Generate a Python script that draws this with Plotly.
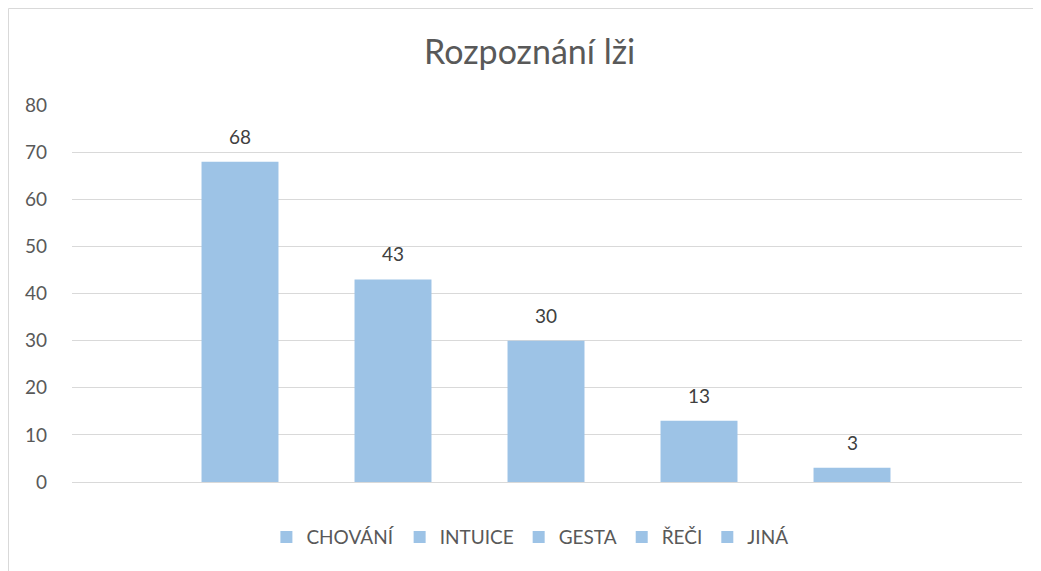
import plotly.graph_objects as go

# --- data ---
categories = ["CHOVÁNÍ", "INTUICE", "GESTA", "ŘEČI", "JINÁ"]
values = [68, 43, 30, 13, 3]
y_ticks = [0, 10, 20, 30, 40, 50, 60, 70, 80]

bar_color = "#9DC3E6"
font_family = "Lato, 'Open Sans', sans-serif"

# the page puts the figure 8px in from the top-left corner of the window
W, H = 1033, 563
plot_l, plot_r, plot_t, plot_b = 64, 1014, 97, 474

fig = go.Figure()

# Each answer is its own series, so each gets its own legend entry
for name, val in zip(categories, values):
    fig.add_trace(go.Bar(
        x=[name],
        y=[val],
        name=name,
        marker=dict(color=bar_color, line=dict(width=0)),
    ))
    fig.add_annotation(
        x=name, y=val, text=str(val),
        showarrow=False, yanchor="bottom", yshift=12,
        font=dict(size=19, color="#404040", family=font_family),
    )

fig.update_layout(
    width=W,
    height=H,
    paper_bgcolor="white",
    plot_bgcolor="white",
    font=dict(family=font_family, color="#595959"),
    title=dict(
        text="Rozpoznání lži",
        x=0.505, xanchor="center",
        y=1 - 44 / H, yanchor="middle",
        font=dict(size=34, color="#595959", family=font_family),
    ),
    barmode="overlay",
    bargap=0.497,
    margin=dict(l=plot_l, r=W - plot_r, t=plot_t, b=H - plot_b),
    showlegend=True,
    legend=dict(
        orientation="h",
        x=0.482, xanchor="center",
        y=-0.146, yanchor="middle",
        font=dict(size=19, color="#595959", family=font_family),
        itemwidth=30,
        traceorder="normal",
    ),
    xaxis=dict(
        type="category",
        range=[-1.098, 5.111],
        showticklabels=False,
        showgrid=False,
        showline=False,
        zeroline=False,
        ticks="",
    ),
    yaxis=dict(
        range=[0, 80.05],
        tickvals=y_ticks,
        showgrid=True,
        gridcolor="#D9D9D9",
        gridwidth=1,
        zeroline=True,
        zerolinecolor="#D9D9D9",
        zerolinewidth=1,
        showline=False,
        ticks="",
        ticklabelstandoff=24,
        tickfont=dict(size=19, color="#595959", family=font_family),
    ),
    # light chart-area border, only the top and left edges are inside the picture
    shapes=[dict(
        type="rect", xref="paper", yref="paper",
        x0=(0.5 - plot_l) / 950, x1=(1060 - plot_l) / 950,
        y0=(plot_b - 600) / 377, y1=(plot_b - 0.5) / 377,
        line=dict(color="#D9D9D9", width=1),
        layer="below",
    )],
)

fig.write_html("out.html")
